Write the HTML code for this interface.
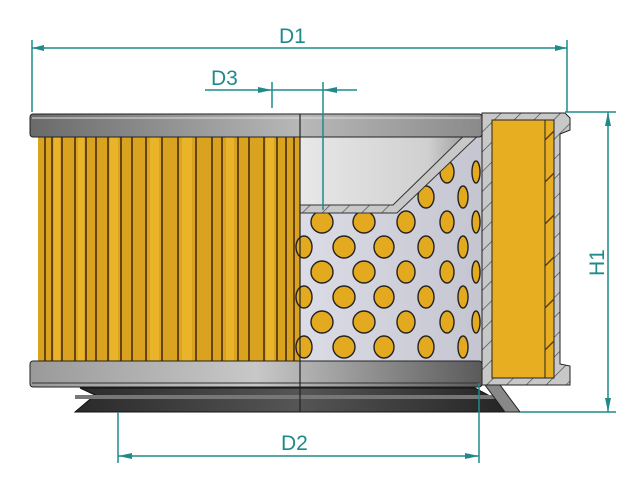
<!DOCTYPE html>
<html><head><meta charset="utf-8"><style>
html,body{margin:0;padding:0;background:#fff;width:640px;height:480px;overflow:hidden}
svg{display:block}
text{font-family:"Liberation Sans",sans-serif;fill:#1f8a8a;font-size:21px}
</style></head><body>
<svg width="640" height="480" viewBox="0 0 640 480">
<defs>
<linearGradient id="cap" x1="0" x2="1" y1="0" y2="0">
<stop offset="0" stop-color="#6a6a6a"/><stop offset="0.6" stop-color="#b8b8b8"/><stop offset="1" stop-color="#8a8a8a"/></linearGradient>
<linearGradient id="cap2" x1="0" x2="1"><stop offset="0" stop-color="#9a9a9a"/><stop offset="0.5" stop-color="#c8c8c8"/><stop offset="1" stop-color="#5a5a5a"/></linearGradient>
<linearGradient id="base" x1="0" x2="1"><stop offset="0" stop-color="#2a2a2a"/><stop offset="0.5" stop-color="#555"/><stop offset="1" stop-color="#222"/></linearGradient>
<linearGradient id="inner" x1="0" x2="1"><stop offset="0" stop-color="#e8e8e8"/><stop offset="0.7" stop-color="#d0d0d0"/><stop offset="1" stop-color="#8a8a8a"/></linearGradient>
<linearGradient id="perf" x1="0" x2="1"><stop offset="0" stop-color="#dcdce6"/><stop offset="1" stop-color="#c4c4d0"/></linearGradient>
<pattern id="hatch" width="14" height="14" patternUnits="userSpaceOnUse" patternTransform="rotate(45)"><rect width="14" height="14" fill="#c8c8c8"/><line x1="0" y1="0" x2="0" y2="14" stroke="#444" stroke-width="1.3"/></pattern>
</defs>

<!-- base -->
<path d="M80,388 L475,388 L520,412 L75,412 L95,395 Z" fill="url(#base)" stroke="#111"/>
<rect x="75" y="395" width="420" height="4" fill="#777"/>

<!-- left yellow pleats -->
<rect x="38" y="136" width="262" height="226" fill="#d9a21f"/>
<g stroke="#4a2e10" stroke-width="1.6">
<line x1="45" y1="136" x2="45" y2="362"/><line x1="52" y1="136" x2="52" y2="362"/><line x1="62" y1="136" x2="62" y2="362"/>
<line x1="75" y1="136" x2="75" y2="362"/><line x1="86" y1="136" x2="86" y2="362"/><line x1="96" y1="136" x2="96" y2="362"/>
<line x1="108" y1="136" x2="108" y2="362"/><line x1="121" y1="136" x2="121" y2="362"/><line x1="132" y1="136" x2="132" y2="362"/>
<line x1="146" y1="136" x2="146" y2="362"/><line x1="162" y1="136" x2="162" y2="362"/><line x1="178" y1="136" x2="178" y2="362"/>
<line x1="196" y1="136" x2="196" y2="362"/><line x1="212" y1="136" x2="212" y2="362"/><line x1="222" y1="136" x2="222" y2="362"/>
<line x1="238" y1="136" x2="238" y2="362"/><line x1="249" y1="136" x2="249" y2="362"/><line x1="264" y1="136" x2="264" y2="362"/>
<line x1="277" y1="136" x2="277" y2="362"/><line x1="286" y1="136" x2="286" y2="362"/><line x1="294" y1="136" x2="294" y2="362"/>
</g>
<g fill="#f0bd30" opacity="0.7">
<rect x="54" y="136" width="6" height="226"/><rect x="78" y="136" width="6" height="226"/><rect x="110" y="136" width="8" height="226"/>
<rect x="150" y="136" width="9" height="226"/><rect x="182" y="136" width="10" height="226"/><rect x="226" y="136" width="8" height="226"/><rect x="266" y="136" width="8" height="226"/>
</g>

<!-- upper inner white area -->
<rect x="300" y="135" width="182" height="75" fill="url(#inner)"/>
<!-- perforated -->
<path d="M300,210 L395,210 L480,128 L492,128 L492,362 L300,362 Z" fill="url(#perf)"/>
<g fill="#e3aa1f" stroke="#222" stroke-width="1.4">
<g id="c1">
<ellipse cx="322" cy="222" rx="11" ry="11"/><ellipse cx="322" cy="272" rx="11" ry="11"/><ellipse cx="322" cy="322" rx="11" ry="11"/>
<ellipse cx="304" cy="247" rx="8" ry="11"/><ellipse cx="304" cy="297" rx="8" ry="11"/><ellipse cx="304" cy="347" rx="8" ry="11"/>
<ellipse cx="344" cy="247" rx="11" ry="11"/><ellipse cx="344" cy="297" rx="11" ry="11"/><ellipse cx="344" cy="347" rx="11" ry="11"/>
<ellipse cx="364" cy="222" rx="11" ry="11"/><ellipse cx="364" cy="272" rx="11" ry="11"/><ellipse cx="364" cy="322" rx="11" ry="11"/>
<ellipse cx="384" cy="247" rx="10" ry="11"/><ellipse cx="384" cy="297" rx="10" ry="11"/><ellipse cx="384" cy="347" rx="10" ry="11"/>
<ellipse cx="406" cy="222" rx="9" ry="11"/><ellipse cx="406" cy="272" rx="9" ry="11"/><ellipse cx="406" cy="322" rx="9" ry="11"/>
<ellipse cx="426" cy="197" rx="8" ry="11"/><ellipse cx="426" cy="247" rx="8" ry="11"/><ellipse cx="426" cy="297" rx="8" ry="11"/><ellipse cx="426" cy="347" rx="8" ry="11"/>
<ellipse cx="447" cy="172" rx="7" ry="11"/><ellipse cx="447" cy="222" rx="7" ry="11"/><ellipse cx="447" cy="272" rx="7" ry="11"/><ellipse cx="447" cy="322" rx="7" ry="11"/>
<ellipse cx="463" cy="197" rx="5" ry="11"/><ellipse cx="463" cy="247" rx="5" ry="11"/><ellipse cx="463" cy="297" rx="5" ry="11"/><ellipse cx="463" cy="347" rx="5" ry="11"/>
<ellipse cx="476" cy="172" rx="4" ry="11"/><ellipse cx="476" cy="222" rx="4" ry="11"/><ellipse cx="476" cy="272" rx="4" ry="11"/><ellipse cx="476" cy="322" rx="4" ry="11"/>
<ellipse cx="486" cy="147" rx="3" ry="10"/><ellipse cx="486" cy="197" rx="3" ry="11"/><ellipse cx="486" cy="247" rx="3" ry="11"/><ellipse cx="486" cy="297" rx="3" ry="11"/><ellipse cx="486" cy="347" rx="3" ry="10"/>
</g></g>
<!-- slanted wall -->
<path d="M300,205 L393,205 L478,122 L484,130 L397,213 L300,213 Z" fill="url(#hatch)" stroke="#333"/>

<!-- top cap -->
<rect x="30" y="114" width="452" height="23" rx="3" fill="url(#cap)" stroke="#222"/>
<line x1="32" y1="118" x2="480" y2="118" stroke="#ddd"/>
<!-- bottom cap -->
<rect x="30" y="361" width="452" height="26" rx="3" fill="url(#cap2)" stroke="#222"/>
<line x1="32" y1="383" x2="480" y2="383" stroke="#333"/>
<line x1="300" y1="114" x2="300" y2="412" stroke="#222" stroke-width="1.2"/>

<!-- right section -->
<path d="M482,113 L565,113 L570,118 L570,130 L560,134 L560,364 L570,366 L570,385 L482,385 Z" fill="url(#hatch)" stroke="#222"/>
<rect x="492" y="120" width="62" height="258" fill="#e8ae22" stroke="#222"/>
<line x1="545" y1="120" x2="545" y2="378" stroke="#222"/>
<g stroke="#5a3a10" stroke-width="1.3">
<line x1="545" y1="140" x2="554" y2="131"/><line x1="545" y1="182" x2="554" y2="173"/><line x1="545" y1="224" x2="554" y2="215"/>
<line x1="545" y1="266" x2="554" y2="257"/><line x1="545" y1="308" x2="554" y2="299"/><line x1="545" y1="350" x2="554" y2="341"/>
</g>
<path d="M485,385 L500,385 L520,412 L505,412 Z" fill="#888" stroke="#222"/>

<!-- dimensions -->
<g stroke="#1f8a8a" stroke-width="1.5" fill="none">
<line x1="32" y1="40" x2="32" y2="112"/><line x1="567" y1="40" x2="567" y2="112"/>
<line x1="32" y1="48" x2="567" y2="48"/>
<line x1="205" y1="90" x2="357" y2="90"/>
<line x1="272" y1="82" x2="272" y2="108"/><line x1="323" y1="82" x2="323" y2="210"/>
<line x1="565" y1="112" x2="616" y2="112"/><line x1="520" y1="412" x2="616" y2="412"/>
<line x1="608" y1="112" x2="608" y2="412"/>
<line x1="118" y1="412" x2="118" y2="463"/><line x1="479" y1="383" x2="479" y2="463"/>
<line x1="118" y1="456" x2="479" y2="456"/>
</g>
<g fill="#1f8a8a">
<path d="M32,48 l12,-3 v6z"/><path d="M567,48 l-12,-3 v6z"/>
<path d="M272,90 l-14,-3 v6z"/><path d="M323,90 l14,-3 v6z"/>
<path d="M608,112 l-3,14 h6z"/><path d="M608,412 l-3,-14 h6z"/>
<path d="M118,456 l14,-3 v6z"/><path d="M479,456 l-14,-3 v6z"/>
</g>
<text x="279" y="43">D1</text>
<text x="211" y="85">D3</text>
<text x="281" y="450">D2</text>
<text transform="translate(604,276) rotate(-90)">H1</text>
</svg>
</body></html>
